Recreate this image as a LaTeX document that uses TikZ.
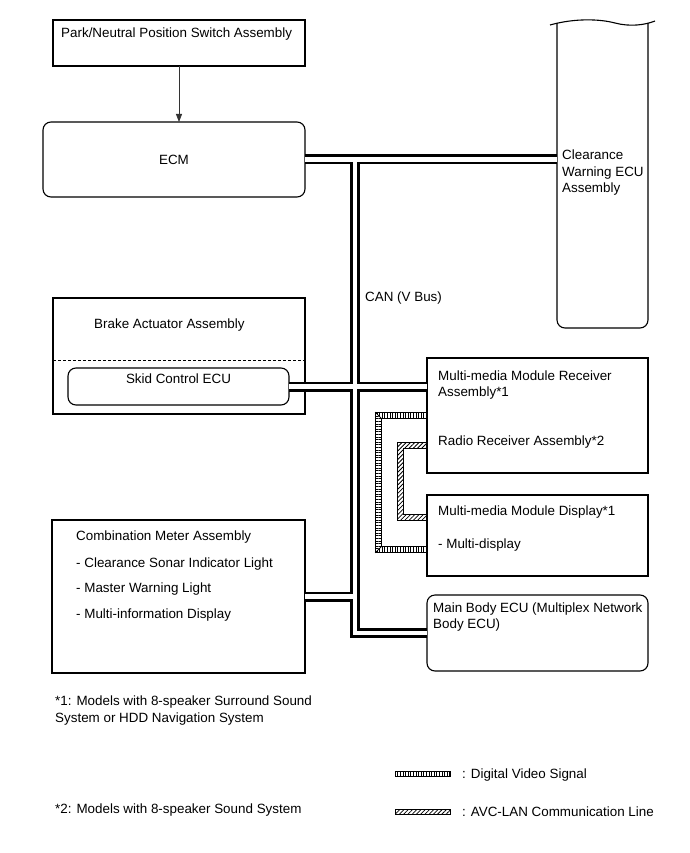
\documentclass[tikz,border=0pt]{standalone}
\usepackage{fontspec}
\setmainfont{Liberation Sans}
\usetikzlibrary{arrows.meta,patterns.meta}
\newcommand{\dfont}{\fontsize{13.4}{16}\selectfont}
\begin{document}
\begin{tikzpicture}[x=1pt,y=-1pt,
  box/.style={draw=black, line width=1.1pt, anchor=north west, inner sep=0pt, outer sep=0pt},
  rbox/.style={box, rounded corners=8pt},
  lbl/.style={anchor=base west, inner sep=0pt, font=\dfont},
  clbl/.style={anchor=base, inner sep=0pt, font=\dfont},
  busblack/.style={line width=10pt, black},
  buswhite/.style={line width=4.5pt, white},
  band/.style={draw=black, line width=0.6pt},
  vidh/.style={band, pattern={Lines[angle=90,distance=2.6pt,line width=0.9pt]}},
  vidv/.style={band, pattern={Lines[angle=0,distance=2.6pt,line width=0.9pt]}},
  avc/.style={band, pattern={Lines[angle=45,distance=3pt,line width=0.8pt]}}]
\useasboundingbox (0,0) rectangle (689,853);

% boxes
\node[box, minimum width=252pt, minimum height=46pt] (park) at (53,20) {};
\node[rbox, minimum width=262pt, minimum height=75pt] (ecm) at (43,122) {};
\node[anchor=north west, inner sep=0pt, outer sep=0pt, minimum width=91pt, minimum height=305pt] (clr) at (557,23) {};
\node[box, minimum width=252pt, minimum height=116pt] (brake) at (53,298) {};
\node[rbox, minimum width=221pt, minimum height=37pt] (skid) at (68,368) {};
\node[box, minimum width=253pt, minimum height=153pt] (comb) at (52,520) {};
\node[box, minimum width=221pt, minimum height=115pt] (rcv) at (427,358) {};
\node[box, minimum width=221pt, minimum height=81pt] (disp) at (427,495) {};
\node[rbox, minimum width=221pt, minimum height=76pt] (mb) at (427,595) {};

% clearance warning ECU outline
\draw[line width=1.1pt] (550,25) .. controls (575,18) and (600,19) .. (615,23) .. controls (630,27) and (645,25) .. (655,21);
\draw[line width=1.1pt, rounded corners=8pt] (clr.north west) -- (clr.south west) -- (clr.south east) -- (clr.north east);

% dashed separator
\draw[line width=1pt, dash pattern=on 3pt off 2pt] (brake.west |- 0,360) -- (brake.east |- 0,360);

% arrow
\draw[-{Triangle[length=8pt,width=6pt]}, line width=0.8pt, black!80] (park.south) -- (park.south |- ecm.north);

% CAN bus
\path (ecm.east) ++(50,0) coordinate (tt);
\draw[busblack] (ecm.east) -- (clr.west |- ecm.east);
\draw[busblack] (tt) -- (tt |- mb.west) -- (mb.west);
\draw[busblack] (skid.east) -- (rcv.west |- skid.east);
\draw[busblack] (comb.east) -- (tt |- comb.east);
\draw[buswhite] (ecm.east) -- (clr.west |- ecm.east);
\draw[buswhite] (tt) -- (tt |- mb.west) -- (mb.west);
\draw[buswhite] (skid.east) -- (rcv.west |- skid.east);
\draw[buswhite] (comb.east) -- (tt |- comb.east);

% digital video signal
\draw[vidh] (rcv.west |- 0,412.5) -- (375.5,412.5) -- (381.5,418.5) -- (disp.west |- 0,418.5) -- cycle;
\draw[vidv] (375.5,412.5) -- (375.5,552.5) -- (381.5,546.5) -- (381.5,418.5) -- cycle;
\draw[vidh] (375.5,552.5) -- (disp.west |- 0,552.5) -- (disp.west |- 0,546.5) -- (381.5,546.5) -- cycle;

% AVC-LAN
\draw[avc] (rcv.west |- 0,442.5) -- (397.5,442.5) -- (397.5,520.5) -- (disp.west |- 0,520.5) -- (disp.west |- 0,514.5) -- (403.5,514.5) -- (403.5,448.5) -- (rcv.west |- 0,448.5) -- cycle;

% texts
\node[lbl] (t1) at (61,38) {Park/Neutral Position Switch Assembly};
\node[inner sep=0pt, font=\dfont] (t2) at (ecm.center) {ECM};
\node[lbl] (t3) at (562,160) {Clearance};
\node[lbl] (t4) at (562,176) {Warning ECU};
\node[lbl] (t5) at (562,192) {Assembly};
\node[lbl] (t6) at (365,301) {CAN (V Bus)};
\node[lbl] (t7) at (94,328) {Brake Actuator Assembly};
\node[clbl] (t8) at (178.5,383) {Skid Control ECU};
\node[lbl] (t9) at (438,380) {Multi-media Module Receiver};
\node[lbl] (t10) at (438,396) {Assembly*1};
\node[lbl] (t11) at (438,445) {Radio Receiver Assembly*2};
\node[lbl] (t12) at (438,515) {Multi-media Module Display*1};
\node[lbl] (t13) at (438,548) {- Multi-display};
\node[lbl] (t14) at (433,612) {Main Body ECU (Multiplex Network};
\node[lbl] (t15) at (433,628) {Body ECU)};
\node[lbl] (t16) at (76,540) {Combination Meter Assembly};
\node[lbl] (t17) at (76,567) {- Clearance Sonar Indicator Light};
\node[lbl] (t18) at (76,592) {- Master Warning Light};
\node[lbl] (t19) at (76,618) {- Multi-information Display};
\node[lbl] (t20) at (55,705) {*1: Models with 8-speaker Surround Sound};
\node[lbl] (t21) at (55,722) {System or HDD Navigation System};
\node[lbl] (t22) at (55,813) {*2: Models with 8-speaker Sound System};

% legend
\node[band, vidh, anchor=north west, minimum width=55pt, minimum height=5pt, inner sep=0pt] (lv) at (395,771) {};
\node[lbl] (t23) at (462,778) {: Digital Video Signal};
\node[band, avc, anchor=north west, minimum width=55pt, minimum height=5pt, inner sep=0pt] (la) at (395,809) {};
\node[lbl] (t24) at (462,816) {: AVC-LAN Communication Line};
\end{tikzpicture}
\end{document}
